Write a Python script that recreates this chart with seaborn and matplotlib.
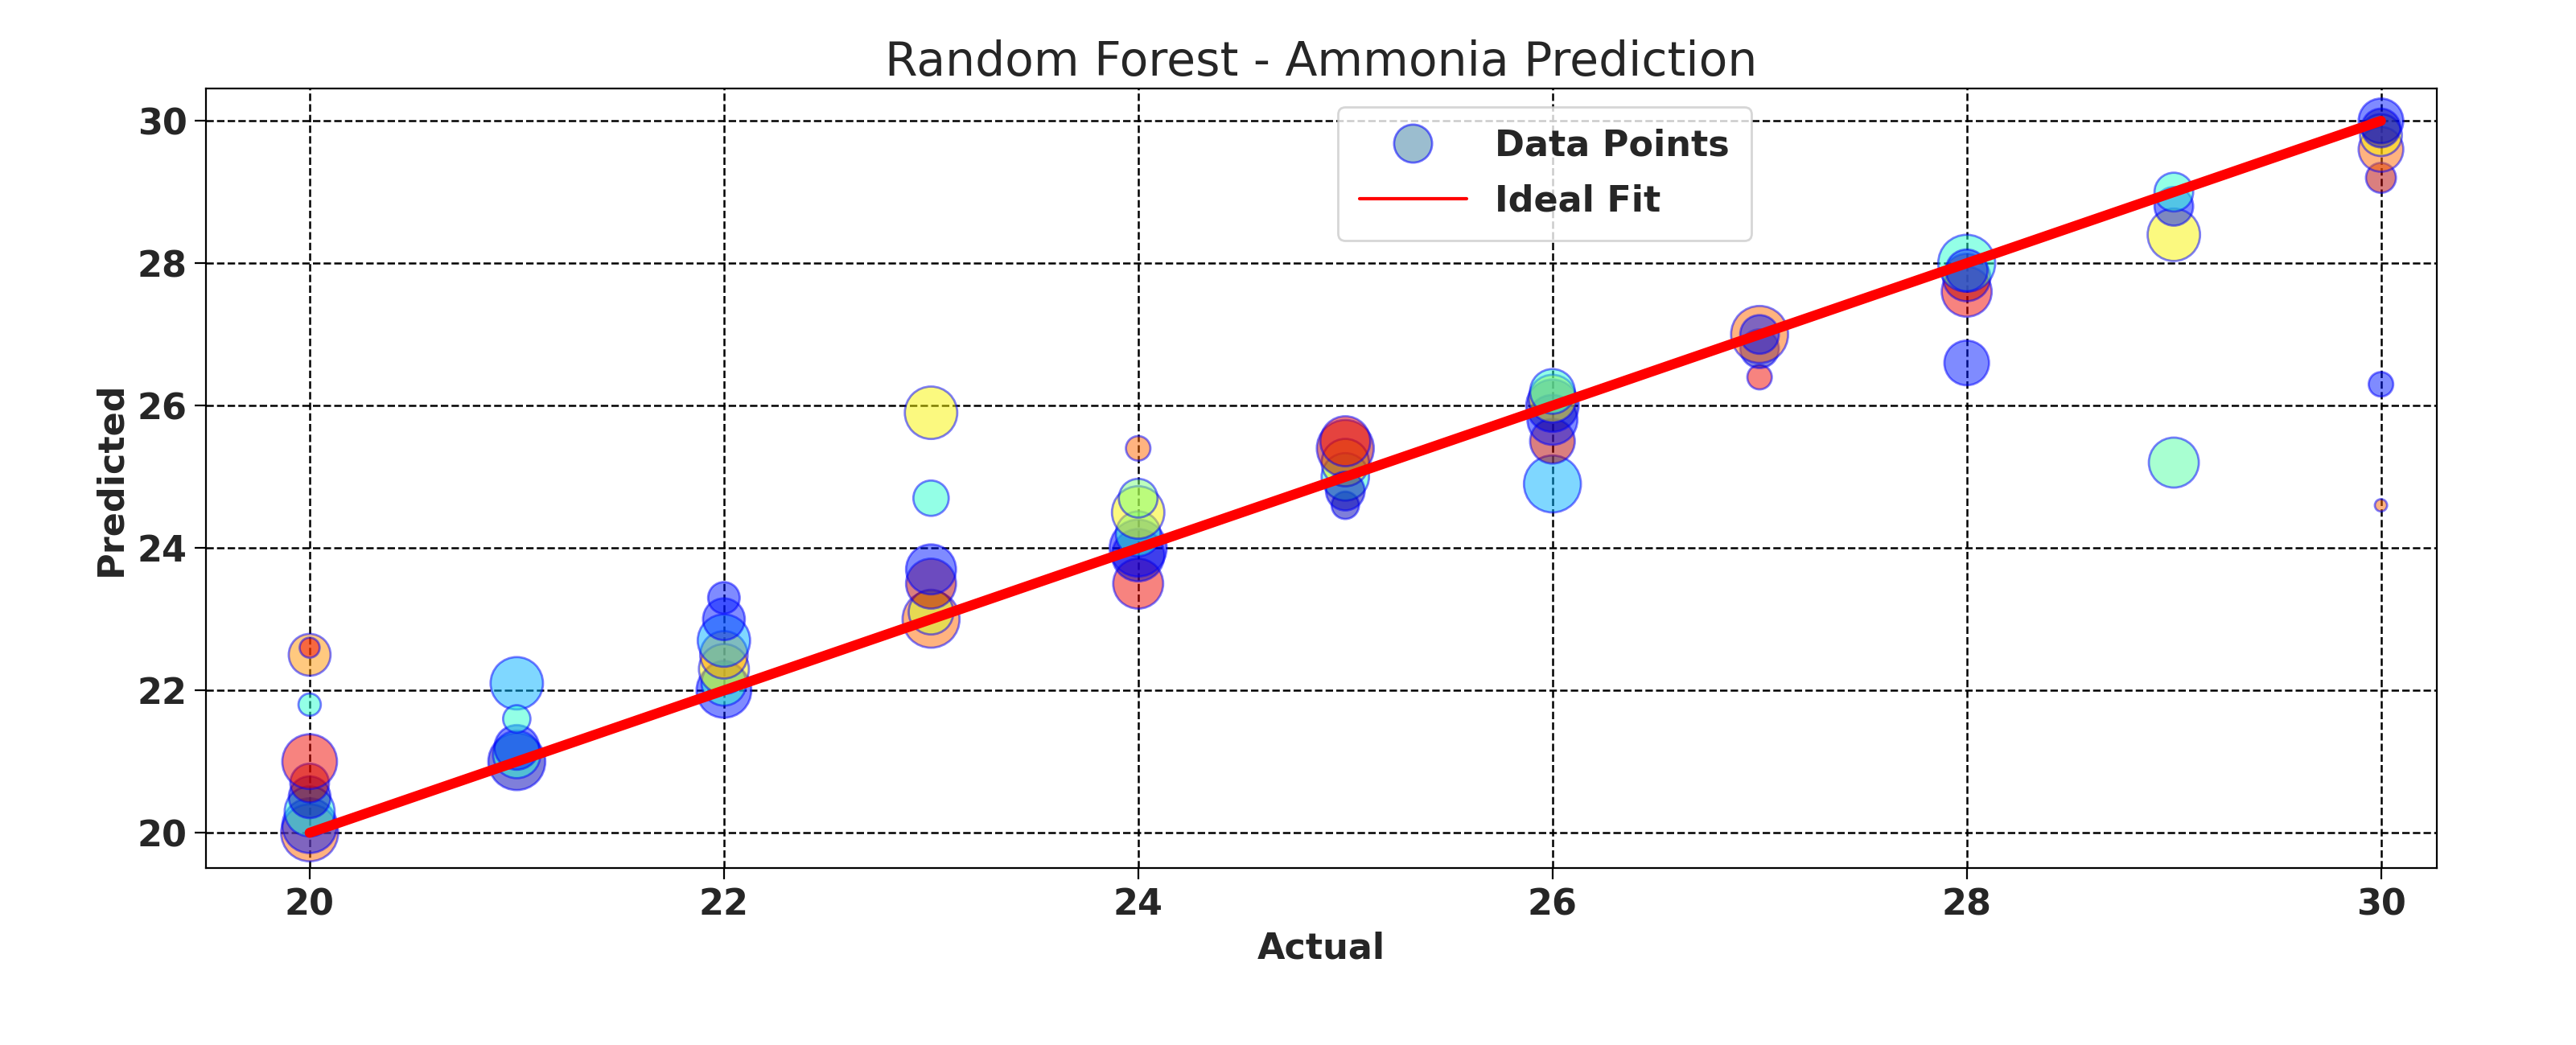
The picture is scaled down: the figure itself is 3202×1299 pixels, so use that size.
import matplotlib
matplotlib.use("Agg")
import matplotlib.pyplot as plt
import seaborn as sns
import pandas as pd
from matplotlib.lines import Line2D

actual = [20]*9 + [21]*5 + [22]*7 + [23]*6 + [24]*7 + [25]*6 + [26]*6 + [27]*4 + [28]*5 + [29]*4 + [30]*7
predicted = [20.0, 20.1, 20.3, 20.5, 20.7, 21.0, 21.8, 22.5, 22.6,
             21.0, 21.1, 21.2, 22.1, 21.6,
             22.0, 22.1, 22.3, 22.5, 22.7, 23.0, 23.3,
             23.0, 23.1, 23.5, 23.7, 24.7, 25.9,
             23.5, 23.9, 24.0, 24.2, 24.5, 24.7, 25.4,
             24.6, 25.0, 25.2, 25.4, 25.5, 24.8,
             24.9, 25.5, 25.8, 26.0, 26.1, 26.2,
             26.4, 26.8, 27.0, 27.0,
             26.6, 27.6, 27.8, 28.0, 27.9,
             25.2, 28.4, 28.8, 29.0,
             24.6, 26.3, 29.2, 29.6, 29.8, 30.0, 29.9]
color_val = [0.8, 0.15, 0.4, 0.05, 0.95, 0.9, 0.4, 0.75, 0.9,
             0.05, 0.4, 0.15, 0.3, 0.4,
             0.15, 0.4, 0.65, 0.75, 0.3, 0.15, 0.15,
             0.8, 0.6, 0.95, 0.15, 0.4, 0.65,
             0.9, 0.05, 0.12, 0.4, 0.65, 0.5, 0.8,
             0.05, 0.4, 0.65, 0.95, 0.9, 0.05,
             0.3, 0.95, 0.15, 0.05, 0.65, 0.4,
             0.9, 0.05, 0.8, 0.15,
             0.15, 0.9, 0.95, 0.4, 0.15,
             0.45, 0.65, 0.15, 0.4,
             0.8, 0.15, 0.95, 0.8, 0.65, 0.15, 0.05]
size_val = [650, 600, 500, 350, 300, 600, 100, 350, 80,
            650, 450, 400, 550, 150,
            600, 400, 500, 450, 550, 350, 200,
            650, 400, 500, 500, 250, 550,
            500, 550, 650, 400, 550, 300, 120,
            150, 450, 450, 650, 500, 300,
            650, 400, 500, 550, 450, 400,
            120, 300, 650, 300,
            400, 500, 450, 650, 350,
            500, 550, 300, 300,
            30, 120, 180, 400, 350, 400, 300]
ideal_x = [20, 30]
ideal_y = [20, 30]

df = pd.DataFrame({"Actual": actual, "Predicted": predicted, "c": color_val, "s": size_val})

sns.set_style("white")
fig = plt.figure(figsize=(16.01, 6.495), dpi=200)
ax = fig.add_axes([0.08, 0.169, 0.866, 0.746])
sns.scatterplot(data=df, x="Actual", y="Predicted", hue="c", palette=matplotlib.colormaps["jet"],
                hue_norm=(0, 1),
                size="s", sizes=(min(size_val), max(size_val)), alpha=0.5,
                edgecolor="blue", linewidth=1.0, legend=False, ax=ax)
ax.plot(ideal_x, ideal_y, color="red", lw=4.5)
ax.set_xlim(19.5, 30.27)
ax.set_ylim(19.5, 30.45)
ax.set_xticks([20, 22, 24, 26, 28, 30])
ax.set_yticks([20, 22, 24, 26, 28, 30])
ax.grid(True, color="black", linestyle="--", linewidth=0.9)
for s in ax.spines.values():
    s.set_color("black")
ax.tick_params(labelsize=16, length=5, color="black", direction="out", bottom=True, left=True)
for t in ax.get_xticklabels() + ax.get_yticklabels():
    t.set_fontweight("bold")
ax.set_xlabel("Actual", fontsize=16, fontweight="bold")
ax.set_ylabel("Predicted", fontsize=16, fontweight="bold")
ax.set_title("Random Forest - Ammonia Prediction", fontsize=21)
handles = [Line2D([], [], marker="o", linestyle="", markersize=17, markerfacecolor="#4a87a8",
                  markeredgecolor="blue", alpha=0.55),
           Line2D([], [], color="red", lw=1.5)]
ax.legend(handles, ["Data Points", "Ideal Fit"], loc="upper center", bbox_to_anchor=(0.6, 1.0),
          prop={"weight": "bold", "size": 16}, handlelength=3, borderpad=0.6, labelspacing=0.6)
fig.savefig("out.png", dpi=200)
